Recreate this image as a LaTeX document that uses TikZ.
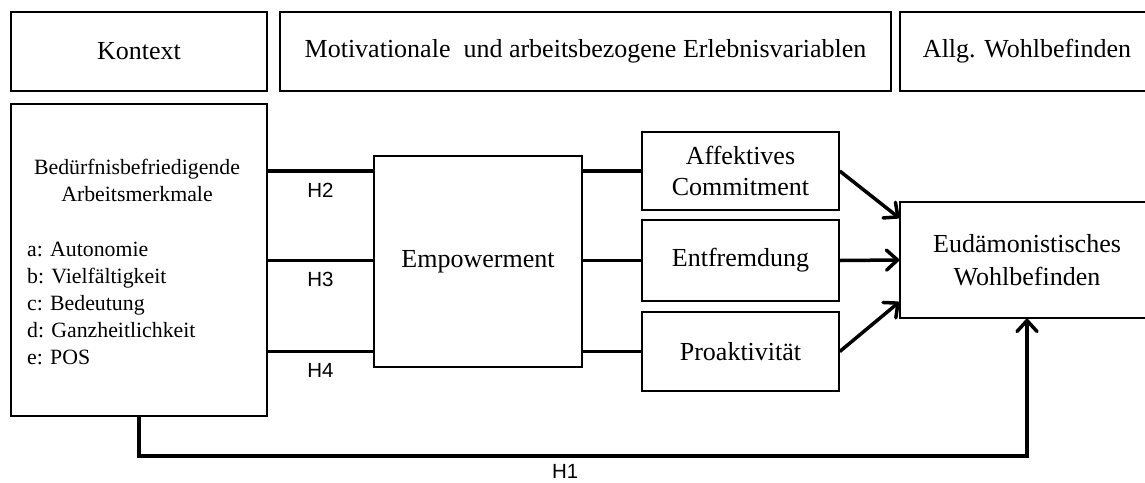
\documentclass[tikz,border=0pt]{standalone}
\usepackage{fontspec}
\setmainfont{Liberation Serif}
\newfontfamily\hfont{Liberation Sans}
\usetikzlibrary{arrows.meta,positioning}

\tikzset{
    kasten/.style={draw, line width=1.5pt, align=center, inner sep=0pt,
        font=\fontsize{26}{31}\selectfont},
    verbindung/.style={line width=3.5pt},
    pfeil/.style={verbindung, -{Straight Barb[round,length=11pt,width=20pt]}},
    hmarke/.style={font=\hfont\fontsize{20.5}{24}\selectfont}
}

\begin{document}
\begin{tikzpicture}[x=1pt, y=-1pt]
            \path[use as bounding box, clip] (0,0) rectangle (1145,482);

            % obere Zeile
            \node[kasten, minimum width=256pt, minimum height=79pt] (kontext) at (139,51.5) {Kontext};
            \node[kasten, minimum width=611pt, minimum height=79pt] (motiv) at (585.5,51.5) {Motivationale\ \ und arbeitsbezogene Erlebnisvariablen};
            \node[kasten, minimum width=254pt, minimum height=79pt] (allg) at (1027,51.5) {Allg. Wohlbefinden};

            % Modell
            \node[kasten, minimum width=256pt, minimum height=312pt] (bed) at (139,260) {};
            \node[align=center, font=\fontsize{21.8}{27}\selectfont] (bedtitel) at (137,180) {Bedürfnisbefriedigende\\Arbeitsmerkmale};
            \node[anchor=west, align=left, inner sep=0pt, font=\fontsize{21.8}{27}\selectfont] (bedliste) at (27,303) {a: Autonomie\\b: Vielfältigkeit\\c: Bedeutung\\d: Ganzheitlichkeit\\e: POS};

            \node[kasten, minimum width=208pt, minimum height=211pt] (emp) at (478,261.5) {Empowerment};

            \node[kasten, minimum width=197pt, minimum height=78pt] (aff) at (740.5,171) {Affektives\\Commitment};
            \node[kasten, minimum width=197pt, minimum height=81pt] (ent) at (740.5,260.5) {Entfremdung};
            \node[kasten, minimum width=197pt, minimum height=79pt] (pro) at (740.5,351.5) {Proaktivität};

            \node[kasten, minimum width=254pt, minimum height=116pt, font=\fontsize{26}{33}\selectfont] (eud) at (1027,260) {Eudämonistisches\\Wohlbefinden};

            % Verbindungen
            \draw[verbindung] (bed.east |- aff.west) -- node[hmarke, below=7pt] (h2) {H2} (emp.west |- aff.west);
            \draw[verbindung] (bed.east |- ent.west) -- node[hmarke, below=7pt] (h3) {H3} (emp.west |- ent.west);
            \draw[verbindung] (bed.east |- pro.west) -- node[hmarke, below=7pt] (h4) {H4} (emp.west |- pro.west);

            \draw[verbindung] (emp.east |- aff.west) -- (aff.west);
            \draw[verbindung] (emp.east |- ent.west) -- (ent.west);
            \draw[verbindung] (emp.east |- pro.west) -- (pro.west);

            \draw[pfeil] (aff.east) -- ([yshift=42pt]eud.west);
            \draw[pfeil] (ent.east) -- (eud.west);
            \draw[pfeil] (pro.east) -- ([yshift=-42pt]eud.west);

            \draw[pfeil] (bed.south) -- ++(0,39) -| node[hmarke, pos=0.24, below=4pt] (h1) {H1} (eud.south);
\end{tikzpicture}
\end{document}
